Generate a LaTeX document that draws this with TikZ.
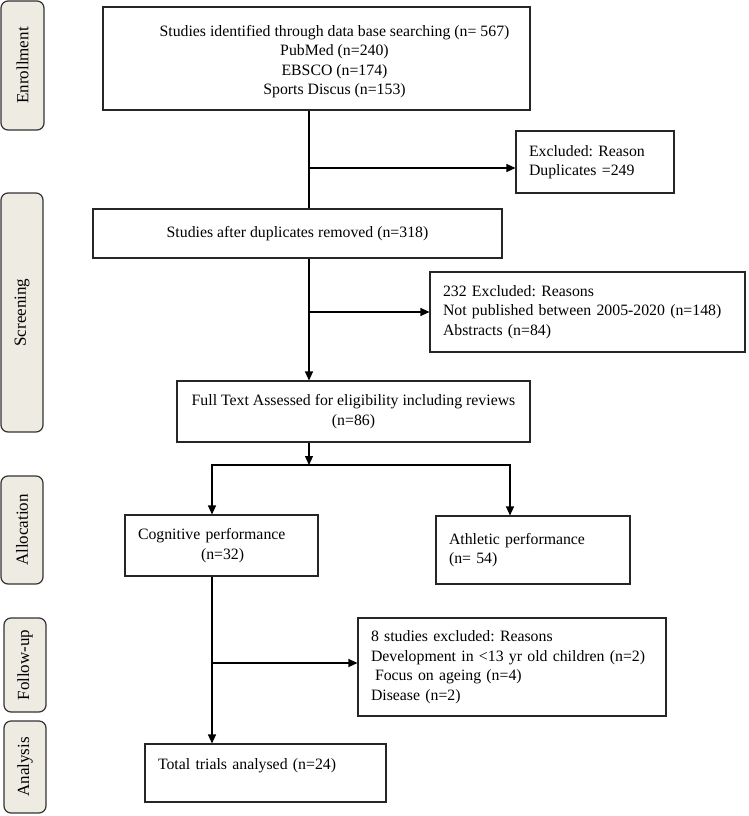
\documentclass[tikz,border=0pt]{standalone}
\usepackage{fontspec}
\setmainfont{Liberation Serif}
\usetikzlibrary{arrows.meta}
\definecolor{tabfill}{HTML}{EEEBE2}
\frenchspacing
\begin{document}
\begin{tikzpicture}[x=1pt,y=-1pt,
		font=\fontsize{15.8}{19.5}\selectfont,
		box/.style={draw=black!85,line width=1.1pt,inner sep=0pt},
		cbox/.style={box,align=center},
		lbox/.style={box,align=left,inner xsep=13pt,text width=#1},
		tab/.style={draw=black!80,fill=tabfill,line width=1.2pt,rounded corners=7pt,rotate=90,
			inner sep=0pt,font=\fontsize{17}{20}\selectfont},
		line/.style={line width=1.1pt},
		arr/.style={line,-{Triangle[length=9pt,width=8pt]}}]
		\useasboundingbox (0,0) rectangle (749,816);
		\node[tab,minimum width=129pt,minimum height=43pt] (enroll) at (22.5,65.5) {Enrollment};
		\node[tab,minimum width=239pt,minimum height=42pt] (screen) at (22,312.5) {Screening};
		\node[tab,minimum width=108pt,minimum height=42pt] (alloc) at (22,530) {Allocation};
		\node[tab,minimum width=94pt,minimum height=42pt] (follow) at (25,665) {Follow-up};
		\node[tab,minimum width=92pt,minimum height=42pt] (analys) at (25,767) {Analysis};
		\node[box,minimum width=427pt,minimum height=103pt] (ident) at (316.5,58.5) {};
		\node[align=center,inner sep=0pt] (identtxt) at ([xshift=18pt,yshift=-3pt]ident.center)
		{Studies identified through data base searching (n= 567)\\PubMed (n=240)\\EBSCO (n=174)\\Sports Discus (n=153)};
		\node[lbox=132pt,minimum height=62pt] (dupl) at (595,162) {Excluded: Reason\\Duplicates =249};
		\node[cbox,minimum width=409pt,minimum height=49pt] (after) at (297.5,233.5) {Studies after duplicates removed (n=318)};
		\node[lbox=289pt,minimum height=80pt] (screx) at (587.5,312)
		{232 Excluded: Reasons\\Not published between 2005-2020 (n=148)\\Abstracts (n=84)};
		\node[cbox,minimum width=353pt,minimum height=61pt] (full) at (353.5,411.5)
		{Full Text Assessed for eligibility including reviews\\(n=86)};
		\node[lbox=167pt,minimum height=61pt] (cog) at (221.5,545.5) {Cognitive performance\\\hspace*{63pt}(n=32)};
		\node[lbox=168pt,minimum height=68pt] (ath) at (533,550) {Athletic performance\\(n= 54)};
		\node[lbox=282pt,minimum height=98pt] (fuex) at (512,667)
		{8 studies excluded: Reasons\\Development in <13 yr old children (n=2)\\\hspace*{4pt}Focus on ageing (n=4)\\Disease (n=2)};
		\node[lbox=215pt,minimum height=58pt,text depth=17pt] (total) at (265.5,773) {Total trials analysed (n=24)};
		\coordinate (spine) at (309,0);
		\coordinate (split) at (309,465);
		\coordinate (cogline) at ([xshift=-9.5pt]cog.south);
		\draw[line] (ident.south -| spine) -- (after.north -| spine);
		\draw[arr] ([yshift=-6pt]dupl.west -| spine) -- ([yshift=-6pt]dupl.west);
		\draw[arr] (after.south -| spine) -- (full.north -| spine);
		\draw[arr] (screx.west -| spine) -- (screx.west);
		\draw[arr] (full.south -| spine) -- (split);
		\draw[arr] (split) -| ([xshift=-9.5pt]cog.north);
		\draw[arr] (split) -| ([xshift=-23pt]ath.north);
		\draw[arr] (cogline) -- (cogline |- total.north);
		\draw[arr] ([yshift=4pt]fuex.west -| cogline) -- ([yshift=4pt]fuex.west);
\end{tikzpicture}
\end{document}
